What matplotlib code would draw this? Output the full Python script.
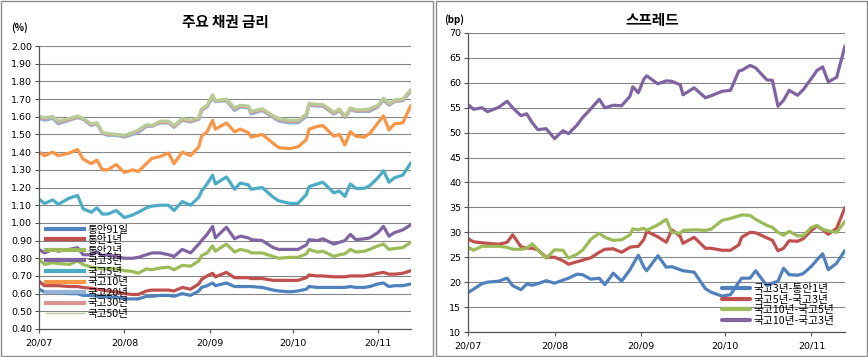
import numpy as np
import pandas as pd
import matplotlib
matplotlib.use("Agg")
import matplotlib.pyplot as plt
import matplotlib.dates as mdates
from matplotlib.lines import Line2D
from matplotlib.patches import Rectangle

plt.rcParams['font.family'] = ['Noto Sans CJK KR', 'DejaVu Sans']

dates = pd.to_datetime([
    '2020-07-01', '2020-07-03', '2020-07-06', '2020-07-08', '2020-07-12', '2020-07-15',
    '2020-07-17', '2020-07-20', '2020-07-22', '2020-07-24', '2020-07-26', '2020-07-29',
    '2020-08-01', '2020-08-04', '2020-08-06', '2020-08-09', '2020-08-11', '2020-08-14',
    '2020-08-17', '2020-08-19', '2020-08-22', '2020-08-25', '2020-08-28', '2020-08-29',
    '2020-08-31', '2020-09-02', '2020-09-03', '2020-09-07', '2020-09-10', '2020-09-12',
    '2020-09-15', '2020-09-16', '2020-09-20', '2020-09-24', '2020-09-26', '2020-09-30',
    '2020-10-03', '2020-10-06', '2020-10-07', '2020-10-10', '2020-10-12', '2020-10-16',
    '2020-10-18', '2020-10-20', '2020-10-22', '2020-10-24', '2020-10-27', '2020-10-29',
    '2020-11-01', '2020-11-03', '2020-11-05', '2020-11-07', '2020-11-10', '2020-11-13'])

# 주요 채권 금리 (%)
msb_91d = [0.625, 0.61, 0.61, 0.605, 0.60, 0.60, 0.59, 0.59, 0.585, 0.585, 0.58, 0.58,
           0.57, 0.57, 0.57, 0.585, 0.585, 0.59, 0.59, 0.585, 0.60, 0.59, 0.615, 0.635, 0.645,
           0.66, 0.645, 0.66, 0.64, 0.64, 0.64, 0.64, 0.635, 0.62, 0.615, 0.61,
           0.615, 0.625, 0.64, 0.635, 0.635, 0.635, 0.635, 0.635, 0.64, 0.635, 0.635, 0.64,
           0.655, 0.66, 0.64, 0.645, 0.645, 0.655]
msb_1y = [0.67, 0.645, 0.645, 0.645, 0.64, 0.64, 0.635, 0.63, 0.625, 0.62, 0.615, 0.61,
          0.60, 0.595, 0.595, 0.615, 0.62, 0.62, 0.62, 0.615, 0.635, 0.625, 0.655, 0.68, 0.70,
          0.715, 0.695, 0.72, 0.69, 0.69, 0.69, 0.685, 0.685, 0.675, 0.675, 0.675,
          0.675, 0.69, 0.705, 0.70, 0.70, 0.695, 0.695, 0.695, 0.70, 0.70, 0.70, 0.705,
          0.715, 0.72, 0.71, 0.71, 0.715, 0.73]
msb_2y = [0.795, 0.765, 0.775, 0.77, 0.765, 0.785, 0.765, 0.75, 0.745, 0.74, 0.74, 0.74,
          0.73, 0.725, 0.715, 0.74, 0.735, 0.745, 0.75, 0.735, 0.76, 0.755, 0.785, 0.815, 0.83,
          0.87, 0.84, 0.88, 0.835, 0.85, 0.84, 0.83, 0.83, 0.81, 0.80, 0.805,
          0.805, 0.825, 0.85, 0.835, 0.84, 0.81, 0.82, 0.825, 0.85, 0.835, 0.84, 0.85,
          0.87, 0.88, 0.85, 0.855, 0.86, 0.89]
ktb_3y = [0.85, 0.83, 0.85, 0.84, 0.85, 0.86, 0.82, 0.82, 0.835, 0.815, 0.82, 0.81,
          0.80, 0.80, 0.805, 0.82, 0.83, 0.83, 0.82, 0.81, 0.85, 0.83, 0.88, 0.90, 0.935,
          0.98, 0.915, 0.975, 0.91, 0.925, 0.915, 0.905, 0.90, 0.86, 0.85, 0.85,
          0.85, 0.875, 0.905, 0.90, 0.91, 0.88, 0.89, 0.90, 0.935, 0.905, 0.91, 0.915,
          0.945, 0.98, 0.925, 0.945, 0.96, 0.99]
ktb_5y = [1.135, 1.11, 1.13, 1.105, 1.14, 1.155, 1.08, 1.06, 1.085, 1.05, 1.05, 1.07,
          1.03, 1.045, 1.06, 1.085, 1.095, 1.10, 1.10, 1.07, 1.12, 1.10, 1.145, 1.18, 1.22,
          1.27, 1.22, 1.26, 1.19, 1.225, 1.215, 1.19, 1.20, 1.145, 1.125, 1.11,
          1.11, 1.16, 1.205, 1.22, 1.23, 1.17, 1.18, 1.15, 1.22, 1.195, 1.195, 1.21,
          1.255, 1.295, 1.23, 1.255, 1.27, 1.34]
ktb_10y = [1.40, 1.38, 1.40, 1.38, 1.395, 1.415, 1.36, 1.335, 1.355, 1.30, 1.30, 1.33,
           1.285, 1.30, 1.29, 1.335, 1.365, 1.375, 1.395, 1.335, 1.40, 1.38, 1.43, 1.49, 1.515,
           1.58, 1.53, 1.565, 1.515, 1.53, 1.51, 1.485, 1.50, 1.45, 1.425, 1.42,
           1.43, 1.47, 1.53, 1.545, 1.55, 1.49, 1.50, 1.44, 1.515, 1.49, 1.485, 1.505,
           1.565, 1.605, 1.525, 1.56, 1.565, 1.665]
ktb_20y = [1.59, 1.58, 1.59, 1.56, 1.58, 1.595, 1.585, 1.55, 1.56, 1.505, 1.495, 1.495,
           1.485, 1.50, 1.51, 1.545, 1.545, 1.565, 1.565, 1.54, 1.58, 1.57, 1.585, 1.635, 1.655,
           1.71, 1.685, 1.69, 1.635, 1.655, 1.65, 1.615, 1.635, 1.595, 1.575, 1.565,
           1.565, 1.60, 1.665, 1.66, 1.66, 1.615, 1.635, 1.595, 1.64, 1.63, 1.63, 1.63,
           1.655, 1.695, 1.665, 1.685, 1.69, 1.745]
ktb_30y = [1.60, 1.59, 1.60, 1.57, 1.585, 1.60, 1.59, 1.555, 1.565, 1.51, 1.50, 1.50,
           1.49, 1.51, 1.52, 1.55, 1.55, 1.57, 1.57, 1.545, 1.585, 1.575, 1.59, 1.64, 1.66,
           1.72, 1.69, 1.695, 1.645, 1.66, 1.655, 1.625, 1.64, 1.60, 1.585, 1.575,
           1.575, 1.61, 1.67, 1.665, 1.665, 1.62, 1.64, 1.60, 1.645, 1.635, 1.635, 1.64,
           1.66, 1.70, 1.67, 1.69, 1.695, 1.75]
ktb_50y = [1.60, 1.595, 1.60, 1.575, 1.59, 1.605, 1.59, 1.56, 1.565, 1.51, 1.505, 1.50,
           1.495, 1.51, 1.525, 1.555, 1.55, 1.575, 1.575, 1.55, 1.59, 1.58, 1.595, 1.645, 1.665,
           1.725, 1.69, 1.70, 1.65, 1.665, 1.66, 1.63, 1.645, 1.605, 1.59, 1.58,
           1.58, 1.615, 1.675, 1.67, 1.67, 1.625, 1.645, 1.605, 1.65, 1.64, 1.64, 1.645,
           1.665, 1.705, 1.675, 1.695, 1.70, 1.755]

# 스프레드 (bp)
sp_3y_1y = [17.9, 18.6, 19.7, 20.0, 20.2, 20.8, 19.3, 18.5, 19.6, 19.4, 19.7, 20.3,
            19.8, 20.4, 20.8, 21.6, 21.5, 20.6, 20.8, 19.5, 21.8, 20.2, 22.5, 23.5, 25.4,
            23.0, 22.3, 25.3, 23.0, 23.1, 22.5, 22.3, 22.0, 18.7, 18.0, 17.2,
            17.5, 20.0, 20.8, 20.8, 22.3, 19.3, 19.8, 20.2, 22.8, 21.5, 21.4, 21.7,
            23.2, 24.5, 25.7, 22.5, 23.8, 26.4]
sp_5y_3y = [28.7, 28.1, 27.9, 27.8, 27.6, 28.0, 29.5, 27.1, 26.8, 26.8, 26.5, 25.0,
            25.0, 24.3, 23.6, 24.1, 24.4, 24.9, 26.0, 26.6, 26.7, 26.0, 27.0, 27.1, 27.2,
            28.6, 30.2, 29.1, 28.0, 30.5, 29.2, 27.8, 29.0, 26.8, 26.8, 26.4,
            26.4, 27.5, 29.0, 30.0, 29.9, 28.9, 28.4, 26.3, 26.8, 28.3, 28.2, 28.7,
            30.4, 31.3, 30.5, 29.6, 30.8, 35.0]
sp_10y_5y = [27.0, 26.4, 27.2, 27.2, 27.2, 27.0, 26.6, 26.6, 26.8, 27.7, 26.5, 24.8,
             26.5, 26.4, 24.8, 25.6, 26.4, 28.6, 29.8, 29.0, 28.4, 28.5, 29.5, 30.7, 30.5,
             30.8, 30.4, 31.5, 32.6, 30.0, 29.8, 30.4, 30.5, 30.4, 30.6, 32.4,
             32.8, 33.3, 33.5, 33.4, 32.6, 31.4, 31.0, 30.0, 29.4, 30.2, 29.3, 29.3,
             31.0, 31.4, 30.6, 30.3, 30.0, 32.2]
sp_10y_3y = [55.6, 54.7, 55.0, 54.2, 55.1, 56.3, 55.0, 53.4, 53.8, 52.0, 50.6, 50.8,
             48.8, 50.4, 49.8, 51.5, 53.0, 54.8, 56.7, 55.0, 55.5, 55.4, 57.3, 59.2, 58.0,
             60.8, 61.4, 59.8, 60.4, 60.3, 59.6, 57.6, 59.0, 57.0, 57.4, 58.3,
             58.5, 62.4, 62.5, 63.5, 63.0, 60.6, 60.5, 55.3, 56.5, 58.5, 57.5, 58.6,
             60.9, 62.5, 63.2, 60.2, 61.1, 67.4]

month_ticks = pd.to_datetime(['2020-07-01', '2020-08-01', '2020-09-01', '2020-10-01', '2020-11-01'])
month_labels = ['20/07', '20/08', '20/09', '20/10', '20/11']

rate_series = [
    ('통안91일', msb_91d, '#4F81BD'),
    ('통안1년', msb_1y, '#C0504D'),
    ('통안2년', msb_2y, '#9BBB59'),
    ('국고3년', ktb_3y, '#8064A2'),
    ('국고5년', ktb_5y, '#4BACC6'),
    ('국고10년', ktb_10y, '#F79646'),
    ('국고20년', ktb_20y, '#95B3D7'),
    ('국고30년', ktb_30y, '#D99694'),
    ('국고50년', ktb_50y, '#B9CC98'),
]
spread_series = [
    ('국고3년-통안1년', sp_3y_1y, '#4F81BD'),
    ('국고5년-국고3년', sp_5y_3y, '#C0504D'),
    ('국고10년-국고5년', sp_10y_5y, '#9BBB59'),
    ('국고10년-국고3년', sp_10y_3y, '#8064A2'),
]

W, H = 868, 357
fig = plt.figure(figsize=(W / 100, H / 100), dpi=100)

# panel frames
for x0, x1 in [(1, 433), (436, 867)]:
    fig.add_artist(Rectangle((x0 / W, 1 / H), (x1 - x0) / W, (H - 2) / H,
                             transform=fig.transFigure, fill=False,
                             edgecolor='#8c8c8c', lw=1.0))


def style_axis(ax):
    ax.set_xlim(pd.Timestamp('2020-07-01'), pd.Timestamp('2020-11-13'))
    ax.set_xticks(month_ticks)
    ax.set_xticklabels(month_labels)
    ax.grid(axis='y', color='#868686', lw=0.8)
    ax.set_axisbelow(True)
    for s in ['top', 'right']:
        ax.spines[s].set_visible(False)
    for s in ['left', 'bottom']:
        ax.spines[s].set_color('#555555')
        ax.spines[s].set_linewidth(0.9)
    ax.tick_params(axis='both', direction='out', length=3, width=0.8,
                   color='#555555', labelsize=7, pad=2)
    ax.tick_params(axis='x', pad=4)
    for lab in ax.get_xticklabels() + ax.get_yticklabels():
        lab.set_family('DejaVu Sans')
        lab.set_fontsize(6.8)


# left: 주요 채권 금리
ax1 = fig.add_axes([39 / W, (H - 329) / H, 372 / W, 283 / H])
for name, vals, col in rate_series:
    ax1.plot(dates, vals, color=col, lw=2.3, label=name, solid_capstyle='round')
ax1.set_ylim(0.40, 2.00)
ax1.set_yticks(np.arange(0.40, 2.001, 0.10))
ax1.yaxis.set_major_formatter(matplotlib.ticker.FormatStrFormatter('%.2f'))
style_axis(ax1)
handles = [Line2D([], [], color=c, lw=(1.0 if n == '국고50년' else 3.0)) for n, _, c in rate_series]
ax1.legend(handles, [n for n, _, _ in rate_series], loc='upper left',
           bbox_to_anchor=(0.0, 0.395), frameon=False, fontsize=7.6,
           handlelength=3.6, handletextpad=0.3, labelspacing=0.05, borderpad=0.2)
fig.text(225 / W, 1 - 22 / H, '주요 채권 금리', ha='center', va='center',
         fontsize=10.5, fontweight='bold')
fig.text(19 / W, 1 - 28 / H, '(%)', ha='center', va='center', fontsize=7,
         fontweight='bold')

# right: 스프레드
ax2 = fig.add_axes([468 / W, (H - 332) / H, 377 / W, 299 / H])
for name, vals, col in spread_series:
    ax2.plot(dates, vals, color=col, lw=2.3, label=name, solid_capstyle='round')
ax2.set_ylim(10, 70)
ax2.set_yticks(np.arange(10, 71, 5))
style_axis(ax2)
ax2.legend(loc='upper left', bbox_to_anchor=(0.655, 0.185), frameon=False,
           fontsize=7.7, handlelength=2.6, handletextpad=0.3, labelspacing=0.05,
           borderpad=0.2)
for line in ax2.get_legend().get_lines():
    line.set_linewidth(3.0)
fig.text(652 / W, 1 - 20 / H, '스프레드', ha='center', va='center',
         fontsize=10.5, fontweight='bold')
fig.text(454 / W, 1 - 20 / H, '(bp)', ha='center', va='center', fontsize=7,
         fontweight='bold')

fig.savefig('out.png', dpi=100)
plt.close(fig)
